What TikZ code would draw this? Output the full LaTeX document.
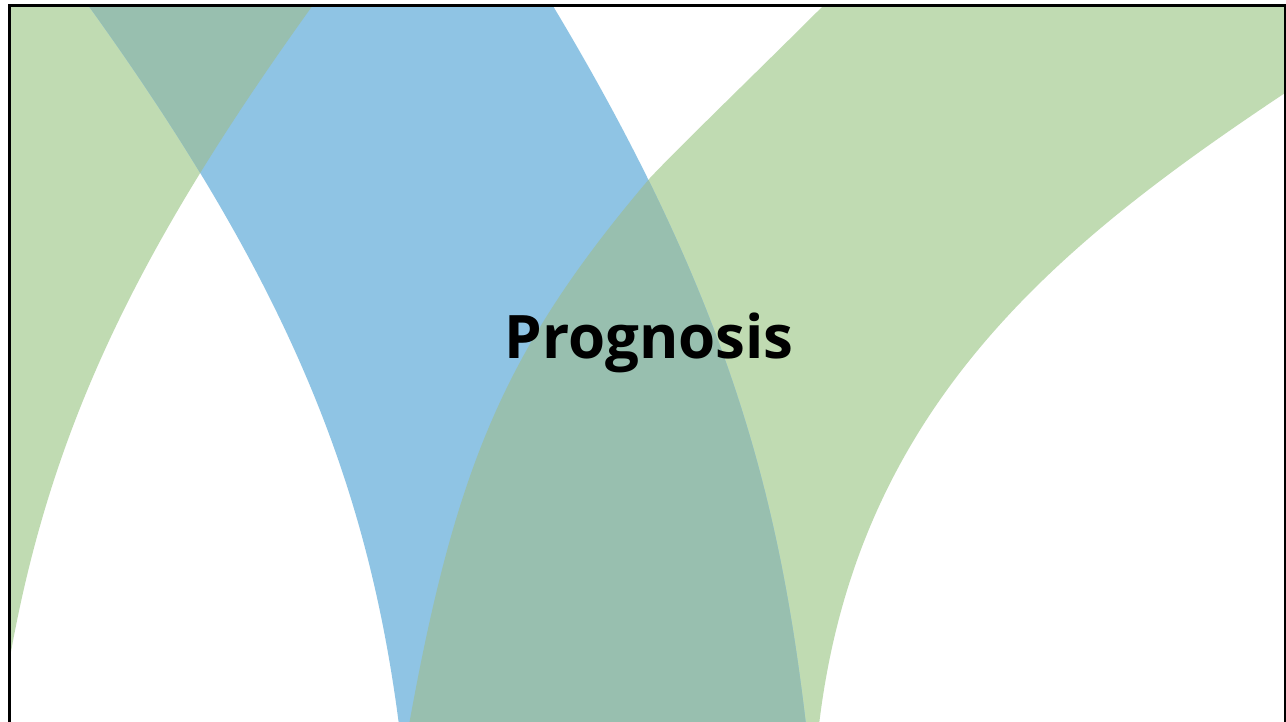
\documentclass[tikz,border=0pt]{standalone}
\usepackage{fontspec}
\newfontfamily\titlefont{Open Sans}
\definecolor{leafgreen}{HTML}{C0DBB2}
\definecolor{skyblue}{HTML}{8FC4E4}
\definecolor{mixteal}{HTML}{98BFAF}
\tikzset{
  band green/.style={fill=leafgreen},
  band blue/.style={fill=skyblue},
  band mix/.style={fill=mixteal},
  frame line/.style={draw=black, line width=2.5pt},
  title text/.style={font=\titlefont\bfseries\fontsize{60}{70}\selectfont, text=black, inner sep=0pt}
}
% left green arc (only its inner edge shows)
\def\bandleft{(347,-40) -- (313,5) .. controls (126,265) and (40.5,450) .. (3,700) -- (-4,760) -- (-80,760) -- (-80,-40) -- cycle}
% blue arc
\def\bandmid{(54,-40) -- (88,5) .. controls (290,285) and (368,485) .. (399,725) -- (400,760) -- (812,760) -- (806,725) .. controls (780,505) and (733,306) .. (553,6) -- (528,-40) -- cycle}
% right green arc
\def\bandright{(869,-40) -- (823,6) .. controls (766,63) and (678,148) .. (650,178) .. controls (505.5,348) and (456,465) .. (409,725) -- (403,760) -- (825,760) -- (819,725) .. controls (857,405) and (1060,243) .. (1285,93) -- (1360,43) -- (1360,-40) -- cycle}
\begin{document}
\begin{tikzpicture}[x=1pt,y=-1pt]
\useasboundingbox (0,0) rectangle (1286,721);
\fill[white] (0,0) rectangle (1286,721);
\begin{scope}
  \clip (9.7,5.5) rectangle (1285,721);
  \path[band green] \bandleft;
  \path[band green] \bandright;
  \path[band blue] \bandmid;
  \begin{scope}
    \clip \bandmid;
    \path[band mix] \bandleft;
    \path[band mix] \bandright;
  \end{scope}
\end{scope}
\draw[frame line] (9.7,5.5) rectangle (1285,760);
\node[title text, anchor=base] (title) at (649,358) {Prognosis};
\end{tikzpicture}
\end{document}
